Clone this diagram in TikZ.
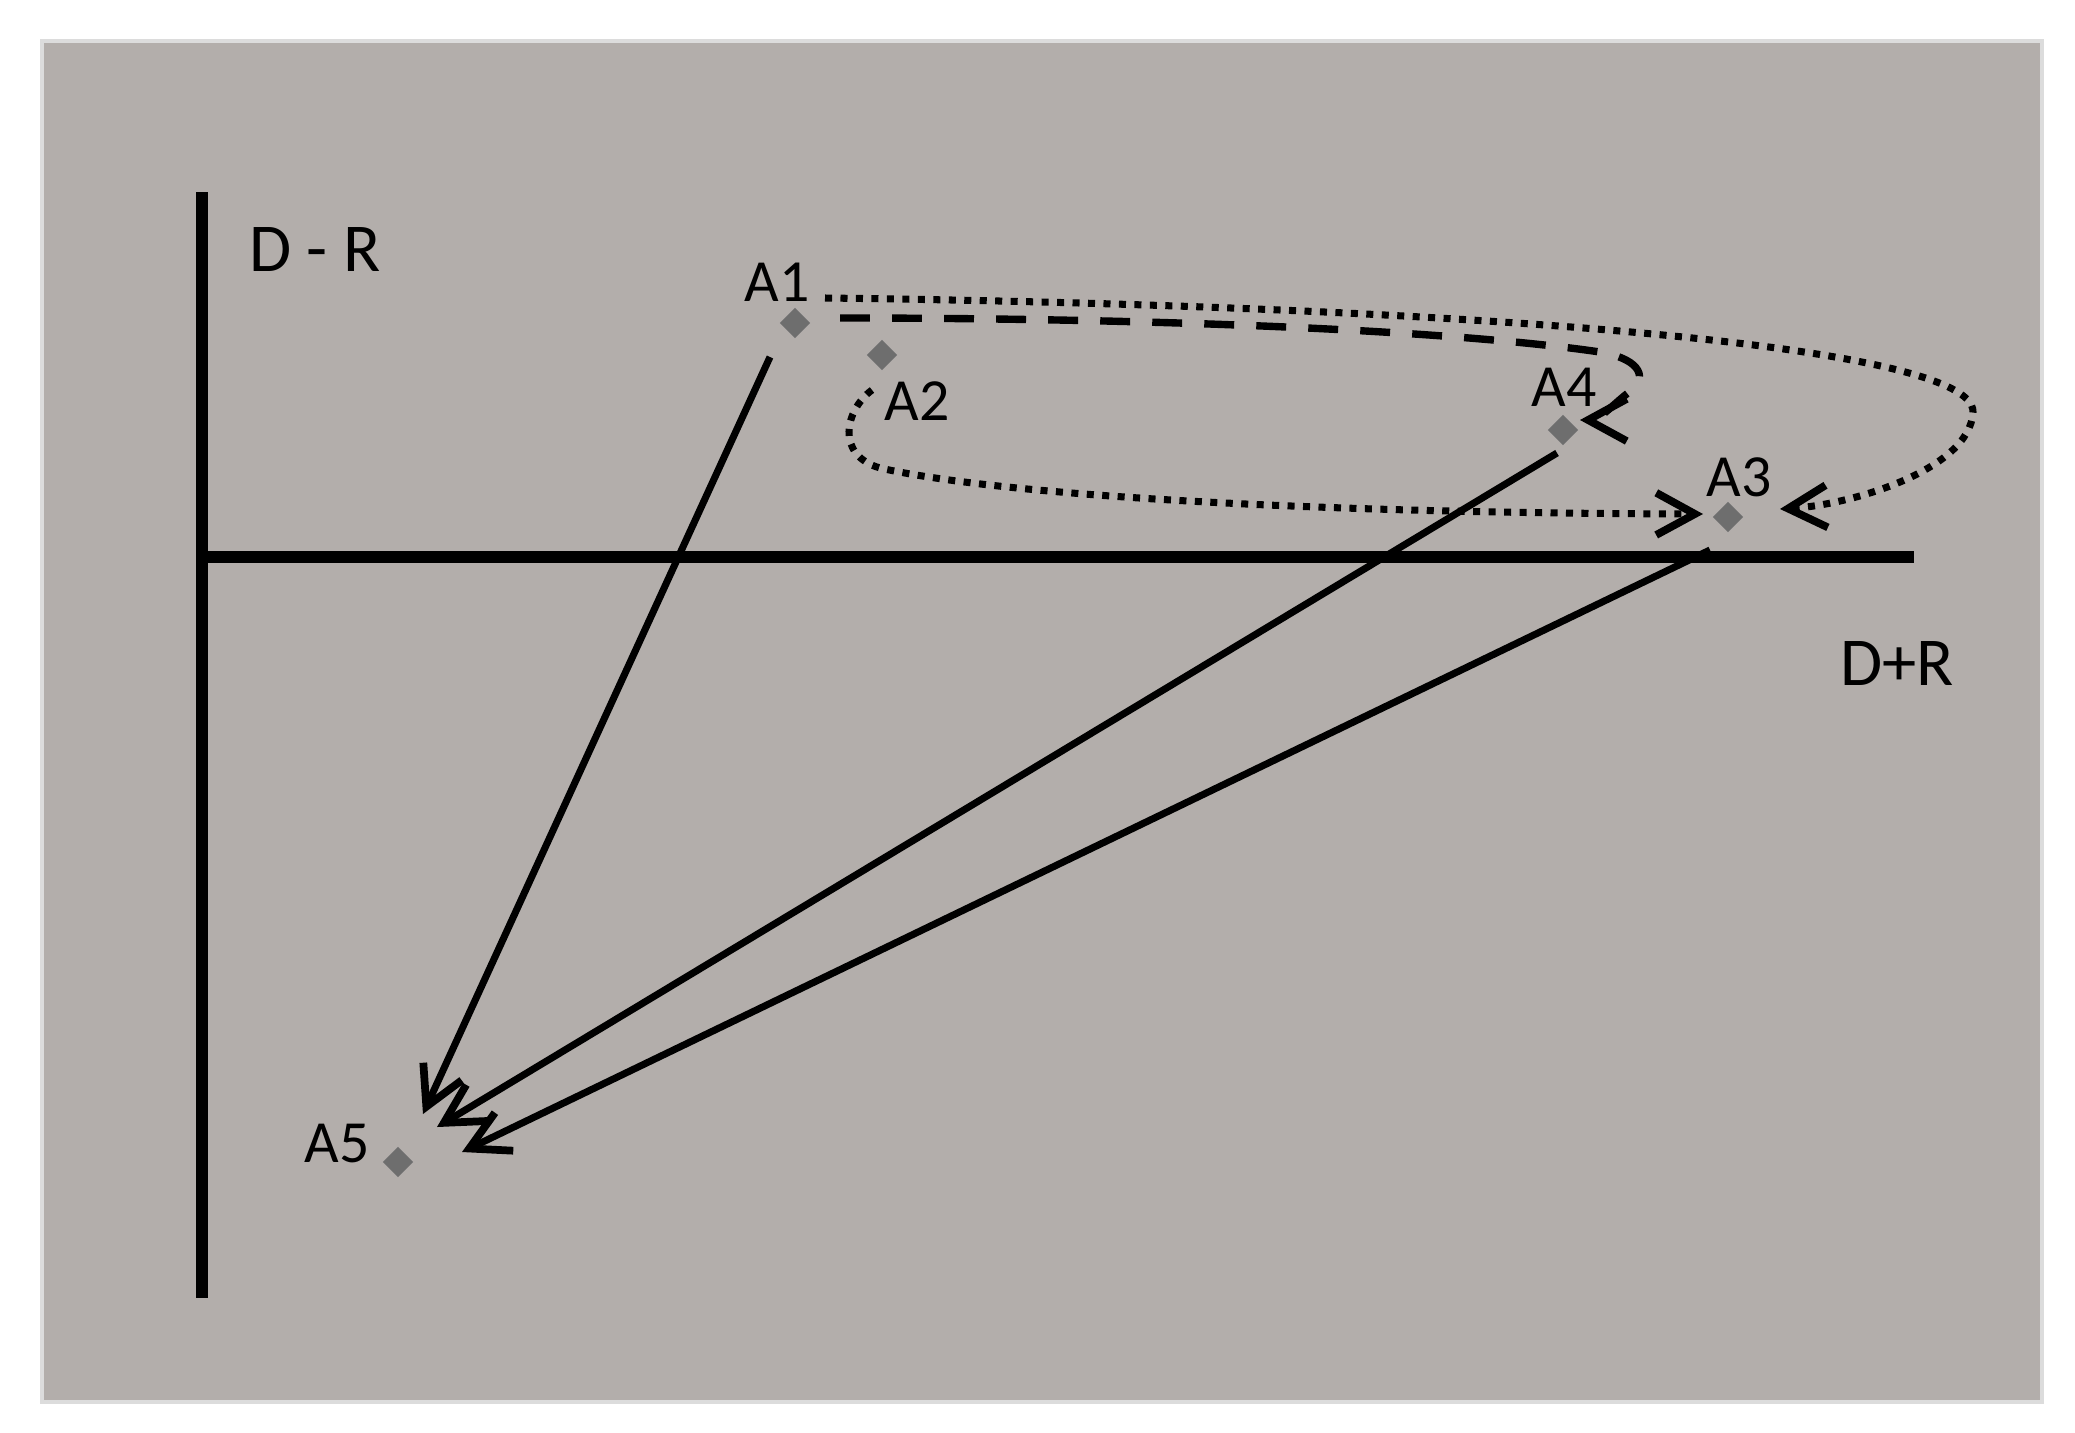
\documentclass[tikz,border=0pt]{standalone}
\usepackage{fontspec}
\setmainfont{Carlito}
\usetikzlibrary{arrows.meta,shapes.geometric}
\definecolor{panelfill}{HTML}{B3AEAB}
\definecolor{panelrim}{HTML}{DCDCDC}
\definecolor{pointgray}{HTML}{6E6E6E}

\begin{document}
\begin{tikzpicture}[
  x=0.01cm,
  y=-0.01cm,
  every node/.style={font=\fontsize{17}{20}\selectfont, black, inner sep=0pt},
  axislabel/.style={font=\fontsize{19.5}{23}\selectfont},
  axis/.style={black, line width=3.2pt},
  point/.style={diamond, fill=pointgray, minimum size=0.31cm},
  move/.style={black, line width=2pt,
    -{Straight Barb[length=11pt, width=12pt, line width=2.2pt]}},
  hop/.style={black, line width=2pt, dash pattern=on 2pt off 2.4pt,
    -{Straight Barb[length=11pt, width=12pt, line width=2.2pt]}},
  swing/.style={black, line width=2.1pt, dash pattern=on 8.5pt off 6.3pt,
    -{Straight Barb[length=11pt, width=12pt, line width=2.2pt]}}
]

  %% ---- background ---------------------------------------------------
  \useasboundingbox (0,0) rectangle (2075,1433);
  \fill[white] (0,0) rectangle (2075,1433);
  \draw[panelrim, line width=1.2pt, fill=panelfill] (42,41) rectangle (2042,1402);

  %% ---- axes -----------------------------------------------------------
  \draw[axis] (202,192) -- (202,1298);
  \draw[axis] (202,557) -- (1914,557);
  \node[axislabel] (ydr) at (315,249) {D - R};
  \node[axislabel] (xdr) at (1897,663) {D+R};

  %% ---- points ---------------------------------------------------------
  \node[point] (a1) at (795,323) {};
  \node[point] (a2) at (882,355) {};
  \node[point] (a3) at (1728,517) {};
  \node[point] (a4) at (1563,430) {};
  \node[point] (a5) at (398,1162) {};

  \node (la1) at (777,282) {A1};
  \node (la2) at (917,401) {A2};
  \node (la3) at (1739,477) {A3};
  \node (la4) at (1564,387) {A4};
  \node (la5) at (337,1144) {A5};

  %% ---- ends of the moves ----------------------------------------------
  \coordinate (s1) at (770,357);
  \coordinate (s2) at (1557,453);
  \coordinate (s3) at (1710,550);
  \coordinate (t1) at (423,1114);
  \coordinate (t2) at (437,1127);
  \coordinate (t3) at (462,1152);

  \coordinate (d1) at (825,298);
  \coordinate (d2) at (872,390);
  \coordinate (d3) at (840,318);
  \coordinate (e1) at (1780,509);
  \coordinate (e2) at (1703,514);
  \coordinate (e4) at (1580,420);

  %% ---- moves to A5 ------------------------------------------------------
  \draw[move] (s1) -- (t1);
  \draw[move] (s2) -- (t2);
  \draw[move] (s3) -- (t3);

  %% ---- loops to A3 and A4 -----------------------------------------------
  \draw[hop] (d1) .. controls (1400,305) and (1975,340) .. (1973,412)
    .. controls (1970,470) and (1850,505) .. (e1);
  \draw[hop] (d2) .. controls (845,410) and (835,455) .. (880,468)
    .. controls (1000,495) and (1300,513) .. (e2);
  \draw[swing] (d3) .. controls (1150,318) and (1450,330) .. (1600,352)
    .. controls (1645,360) and (1645,380) .. (1632,390)
    .. controls (1615,402) and (1600,420) .. (e4);

\end{tikzpicture}
\end{document}
